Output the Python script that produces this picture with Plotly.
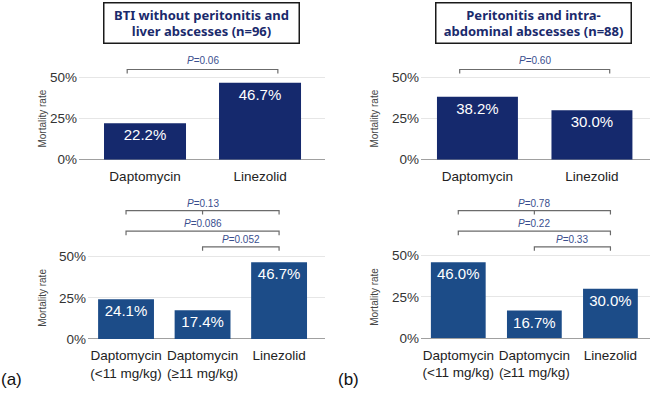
import plotly.graph_objects as go

# ---------------- data ----------------
top_categories = ["Daptomycin", "Linezolid"]
bottom_categories = ["Daptomycin<br>(&lt;11 mg/kg)", "Daptomycin<br>(≥11 mg/kg)", "Linezolid"]

bti_overall = [0.222, 0.467]
bti_dose = [0.241, 0.174, 0.467]
perit_overall = [0.382, 0.300]
perit_dose = [0.460, 0.167, 0.300]

title_a = "BTI without peritonitis and<br>liver abscesses (n=96)"
title_b = "Peritonitis and intra-<br>abdominal abscesses (n=88)"

# comparisons: (from index, to index, middle tick, p-value text)
bti_top_comp = [(0, 1, False, "0.06")]
perit_top_comp = [(0, 1, False, "0.60")]
bti_bottom_comp = [(0, 2, True, "0.13"), (0, 2, False, "0.086"), (1, 2, False, "0.052")]
perit_bottom_comp = [(0, 2, True, "0.78"), (0, 2, False, "0.22"), (1, 2, False, "0.33")]

# ---------------- style ----------------
W, H = 650, 395
FONT = "Liberation Sans, Arial, sans-serif"
NAVY = "#15296d"
BLUE = "#1c4c88"
PCOL = "#3a4f8e"
BRK = "#6b6b6b"

fig = go.Figure()

panels = [
    dict(vals=bti_overall, cats=top_categories, color=NAVY, ax="", xd=(79, 325), yd=(163, 55),
         xr=(-0.574, 1.565), bw=0.713, comps=bti_top_comp, lv=[0.548], tl=[0.603], pad=0.155, tick=0.024),
    dict(vals=perit_overall, cats=top_categories, color=NAVY, ax="2", xd=(421, 650), yd=(163, 55),
         xr=(-0.493, 1.507), bw=0.707, comps=perit_top_comp, lv=[0.548], tl=[0.603], pad=0.155, tick=0.024),
    dict(vals=bti_dose, cats=bottom_categories, color=BLUE, ax="3", xd=(88, 325), yd=(346, 200),
         xr=(-0.497, 2.60), bw=0.73, comps=bti_bottom_comp, lv=[0.780, 0.655, 0.560],
         tl=[0.822, 0.702, 0.602], pad=0.0, tick=0.024),
    dict(vals=perit_dose, cats=bottom_categories, color=BLUE, ax="4", xd=(421, 650), yd=(345, 200),
         xr=(-0.49, 2.52), bw=0.72, comps=perit_bottom_comp, lv=[0.774, 0.649, 0.554],
         tl=[0.816, 0.697, 0.596], pad=0.0, tick=0.024),
]

layout = dict(
    width=W, height=H, margin=dict(l=0, r=0, t=0, b=0),
    paper_bgcolor="white", plot_bgcolor="white", showlegend=False,
    font=dict(family=FONT, color="#333333"),
    shapes=[], annotations=[],
)

for p in panels:
    ax = p["ax"]
    idx = list(range(len(p["cats"])))
    fig.add_trace(go.Bar(
        x=idx, y=p["vals"], xaxis="x" + ax, yaxis="y" + ax,
        marker=dict(color=p["color"], line=dict(width=0)), width=p["bw"],
        texttemplate="%{y:.1%}", textposition="inside", insidetextanchor="end",
        textangle=0, textfont=dict(color="white", size=15, family=FONT),
        cliponaxis=False, hoverinfo="skip",
    ))
    zero_px, top_px = p["yd"]
    ytop = (zero_px - top_px) / 168.0
    layout["xaxis" + ax] = dict(
        domain=[p["xd"][0] / W, p["xd"][1] / W], range=list(p["xr"]),
        anchor="y" + ax, tickvals=idx, ticktext=p["cats"], showgrid=False,
        zeroline=False, showline=False, ticks="", ticklabelstandoff=7,
        tickfont=dict(size=13.5, color="#222222", family=FONT), fixedrange=True,
    )
    layout["yaxis" + ax] = dict(
        domain=[1 - zero_px / H, 1 - top_px / H], range=[0, ytop], anchor="x" + ax,
        tickvals=[0, 0.25, 0.5], ticktext=["0%", "25%", "50%"], showgrid=True,
        gridcolor="#e6e6e6", gridwidth=1, zeroline=True, zerolinecolor="#a0a0a0",
        zerolinewidth=1.2, showline=False, ticks="", ticklabelstandoff=1,
        tickfont=dict(size=13.5, color="#333333", family=FONT), fixedrange=True,
    )
    xref, yref = "x" + ax, "y" + ax
    for (a, b, mid, ptxt), lv, tl in zip(p["comps"], p["lv"], p["tl"]):
        x0, x1 = a - p["pad"], b + p["pad"]
        y1 = lv - p["tick"]
        path = f"M {x0},{y1} L {x0},{lv} L {x1},{lv} L {x1},{y1}"
        if mid:
            xm = (a + b) / 2
            path += f" M {xm},{lv} L {xm},{y1}"
        layout["shapes"].append(dict(type="path", path=path, xref=xref, yref=yref,
                                     line=dict(color=BRK, width=1.2)))
        layout["annotations"].append(dict(
            x=(a + b) / 2, y=tl, xref=xref, yref=yref,
            text=f"<i>P</i>={ptxt}", showarrow=False,
            font=dict(size=10, color=PCOL, family=FONT), xanchor="center", yanchor="middle",
        ))
    xt = 43 if p["xd"][0] < 300 else 375
    layout["annotations"].append(dict(
        x=xt / W, y=1 - (zero_px - 42) / H, xref="paper", yref="paper",
        text="Mortality rate", textangle=-90, showarrow=False,
        xanchor="center", yanchor="middle",
        font=dict(size=10, color="#444444", family=FONT),
    ))

for cx, txt in [(202, title_a), (533.5, title_b)]:
    layout["annotations"].append(dict(
        x=cx / W, y=1 - 23 / H, xref="paper", yref="paper", text="<b>" + txt + "</b>",
        showarrow=False, width=192, height=37, borderpad=1, bordercolor="#1a1a1a",
        borderwidth=1.5, bgcolor="white", align="center", xanchor="center", yanchor="middle",
        font=dict(size=13, color="#1a2a6c", family="Noto Sans, Open Sans, sans-serif"),
    ))

for cx, txt in [(11, "(a)"), (348, "(b)")]:
    layout["annotations"].append(dict(
        x=cx / W, y=1 - 387 / H, xref="paper", yref="paper", text=txt, showarrow=False,
        xanchor="center", yanchor="middle",
        font=dict(size=17, color="#111111", family=FONT),
    ))

fig.update_layout(**layout)
fig.write_html("out.html")
